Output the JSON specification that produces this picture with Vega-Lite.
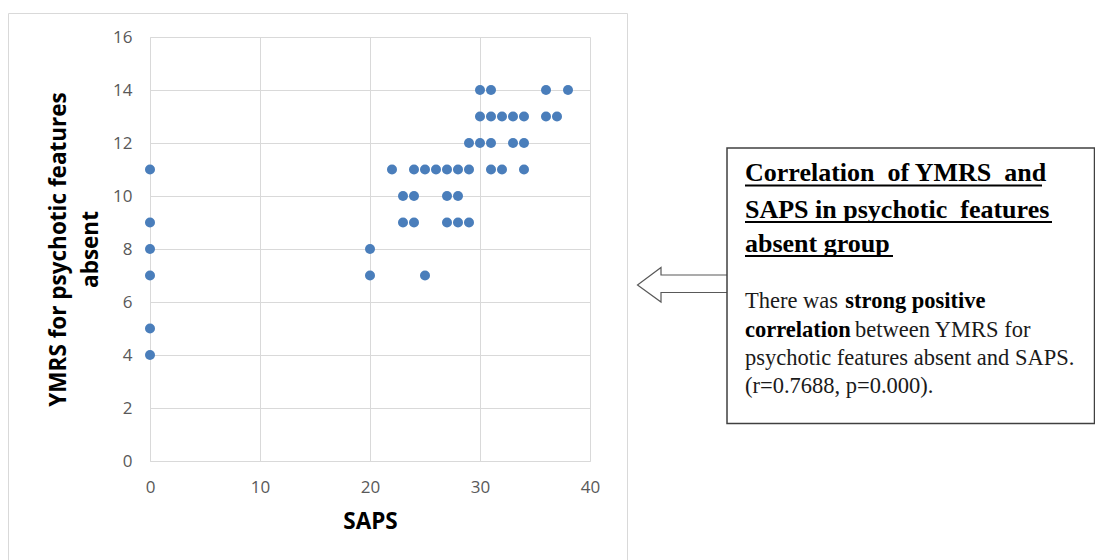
{
  "$schema": "https://vega.github.io/schema/vega-lite/v6.json",
  "width": 440,
  "height": 424,
  "autosize": {"type": "none"},
  "padding": {"left": 150, "top": 37, "right": 505, "bottom": 99},
  "background": "white",
  "config": {
    "view": {"stroke": null},
    "axis": {
      "grid": true,
      "gridColor": "#d9d9d9",
      "gridWidth": 1,
      "domainColor": "#d9d9d9",
      "domainWidth": 1,
      "ticks": false,
      "tickSize": 0,
      "labelFlush": false,
      "labelFont": "Open Sans",
      "labelFontSize": 17,
      "labelColor": "#595959",
      "titleFont": "Open Sans",
      "titleFontSize": 22.5,
      "titleFontWeight": "bold",
      "titleColor": "#000000"
    }
  },
  "datasets": {
    "points": [
      {"SAPS": 0, "YMRS": 11}, {"SAPS": 0, "YMRS": 9}, {"SAPS": 0, "YMRS": 8},
      {"SAPS": 0, "YMRS": 7}, {"SAPS": 0, "YMRS": 5}, {"SAPS": 0, "YMRS": 4},
      {"SAPS": 20, "YMRS": 8}, {"SAPS": 20, "YMRS": 7}, {"SAPS": 25, "YMRS": 7},
      {"SAPS": 23, "YMRS": 9}, {"SAPS": 24, "YMRS": 9}, {"SAPS": 27, "YMRS": 9}, {"SAPS": 28, "YMRS": 9}, {"SAPS": 29, "YMRS": 9},
      {"SAPS": 23, "YMRS": 10}, {"SAPS": 24, "YMRS": 10}, {"SAPS": 27, "YMRS": 10}, {"SAPS": 28, "YMRS": 10},
      {"SAPS": 22, "YMRS": 11}, {"SAPS": 24, "YMRS": 11}, {"SAPS": 25, "YMRS": 11}, {"SAPS": 26, "YMRS": 11},
      {"SAPS": 27, "YMRS": 11}, {"SAPS": 28, "YMRS": 11}, {"SAPS": 29, "YMRS": 11}, {"SAPS": 31, "YMRS": 11},
      {"SAPS": 32, "YMRS": 11}, {"SAPS": 34, "YMRS": 11},
      {"SAPS": 29, "YMRS": 12}, {"SAPS": 30, "YMRS": 12}, {"SAPS": 31, "YMRS": 12}, {"SAPS": 33, "YMRS": 12}, {"SAPS": 34, "YMRS": 12},
      {"SAPS": 30, "YMRS": 13}, {"SAPS": 31, "YMRS": 13}, {"SAPS": 32, "YMRS": 13}, {"SAPS": 33, "YMRS": 13},
      {"SAPS": 34, "YMRS": 13}, {"SAPS": 36, "YMRS": 13}, {"SAPS": 37, "YMRS": 13},
      {"SAPS": 30, "YMRS": 14}, {"SAPS": 31, "YMRS": 14}, {"SAPS": 36, "YMRS": 14}, {"SAPS": 38, "YMRS": 14}
    ],
    "frame": [{"x1": -12.864, "x2": 43.409, "y1": 16.887, "y2": -4.5}],
    "box": [{"x1": 52.455, "x2": 85.864, "y1": 11.811, "y2": 1.415}],
    "arrow": [
      {"o": 1, "x": 52.455, "y": 7.019},
      {"o": 2, "x": 46.455, "y": 7.019},
      {"o": 3, "x": 46.455, "y": 7.302},
      {"o": 4, "x": 44.318, "y": 6.642},
      {"o": 5, "x": 46.455, "y": 6.0},
      {"o": 6, "x": 46.455, "y": 6.358},
      {"o": 7, "x": 52.455, "y": 6.358}
    ],
    "underlines": [
      {"x1": 54.091, "x2": 81.091, "y": 10.396},
      {"x1": 54.091, "x2": 82.0, "y": 9.019},
      {"x1": 54.091, "x2": 67.545, "y": 7.736}
    ],
    "notes": [
      {"part": "title", "x": 54.091, "y": 10.566, "label": "Correlation\u00a0 of YMRS\u00a0 and"},
      {"part": "title", "x": 54.091, "y": 9.181, "label": "SAPS in psychotic\u00a0 features"},
      {"part": "title", "x": 54.091, "y": 7.875, "label": "absent group"},
      {"part": "body", "x": 54.091, "y": 5.762, "label": "There was"},
      {"part": "emph", "x": 63.209, "y": 5.762, "label": "strong positive"},
      {"part": "emph", "x": 54.091, "y": 4.691, "label": "correlation"},
      {"part": "body", "x": 64.091, "y": 4.691, "label": "between YMRS for"},
      {"part": "body", "x": 54.091, "y": 3.623, "label": "psychotic features absent and SAPS."},
      {"part": "body", "x": 54.091, "y": 2.555, "label": "(r=0.7688, p=0.000)."}
    ]
  },
  "layer": [
    {
      "data": {"name": "frame"},
      "mark": {"type": "rect", "fill": null, "fillOpacity": 0, "stroke": "#d9d9d9", "strokeWidth": 1, "clip": false},
      "encoding": {
        "x": {"field": "x1", "type": "quantitative", "scale": {"domain": [0, 40], "nice": false}},
        "x2": {"field": "x2"},
        "y": {"field": "y1", "type": "quantitative", "scale": {"domain": [0, 16], "nice": false}},
        "y2": {"field": "y2"}
      }
    },
    {
      "data": {"name": "points"},
      "mark": {"type": "circle", "size": 100, "color": "#4a7ebb", "opacity": 1},
      "encoding": {
        "x": {
          "field": "SAPS", "type": "quantitative",
          "scale": {"domain": [0, 40], "nice": false},
          "axis": {
            "values": [0, 10, 20, 30, 40],
            "title": "SAPS",
            "labelPadding": 18,
            "titleX": 220,
            "titleY": 60,
            "titleBaseline": "middle",
            "titleAlign": "center"
          }
        },
        "y": {
          "field": "YMRS", "type": "quantitative",
          "scale": {"domain": [0, 16], "nice": false},
          "axis": {
            "values": [0, 2, 4, 6, 8, 10, 12, 14, 16],
            "title": ["YMRS for psychotic features", "absent"],
            "labelPadding": 18,
            "titleLineHeight": 32,
            "titleX": -92,
            "titleY": 212,
            "titleAngle": -90,
            "titleAlign": "center",
            "titleBaseline": "middle"
          }
        }
      }
    },
    {
      "data": {"name": "arrow"},
      "mark": {"type": "line", "stroke": "#595959", "strokeWidth": 1.2, "clip": false},
      "encoding": {
        "x": {"field": "x", "type": "quantitative"},
        "y": {"field": "y", "type": "quantitative"},
        "order": {"field": "o", "type": "quantitative"}
      }
    },
    {
      "data": {"name": "box"},
      "mark": {"type": "rect", "fill": null, "fillOpacity": 0, "stroke": "#404040", "strokeWidth": 1.5, "clip": false},
      "encoding": {
        "x": {"field": "x1", "type": "quantitative"},
        "x2": {"field": "x2"},
        "y": {"field": "y1", "type": "quantitative"},
        "y2": {"field": "y2"}
      }
    },
    {
      "data": {"name": "underlines"},
      "mark": {"type": "rule", "stroke": "#000000", "strokeWidth": 1.8, "clip": false},
      "encoding": {
        "x": {"field": "x1", "type": "quantitative"},
        "x2": {"field": "x2"},
        "y": {"field": "y", "type": "quantitative"}
      }
    },
    {
      "data": {"name": "notes"},
      "transform": [{"filter": "datum.part === 'title'"}],
      "mark": {"type": "text", "font": "Liberation Serif", "fontSize": 26, "fontWeight": "bold", "color": "#000000", "align": "left", "baseline": "alphabetic", "clip": false},
      "encoding": {
        "x": {"field": "x", "type": "quantitative"},
        "y": {"field": "y", "type": "quantitative"},
        "text": {"field": "label"}
      }
    },
    {
      "data": {"name": "notes"},
      "transform": [{"filter": "datum.part === 'body'"}],
      "mark": {"type": "text", "font": "Liberation Serif", "fontSize": 22.5, "color": "#1a1a1a", "align": "left", "baseline": "alphabetic", "clip": false},
      "encoding": {
        "x": {"field": "x", "type": "quantitative"},
        "y": {"field": "y", "type": "quantitative"},
        "text": {"field": "label"}
      }
    },
    {
      "data": {"name": "notes"},
      "transform": [{"filter": "datum.part === 'emph'"}],
      "mark": {"type": "text", "font": "Liberation Serif", "fontSize": 22.5, "fontWeight": "bold", "color": "#000000", "align": "left", "baseline": "alphabetic", "clip": false},
      "encoding": {
        "x": {"field": "x", "type": "quantitative"},
        "y": {"field": "y", "type": "quantitative"},
        "text": {"field": "label"}
      }
    }
  ]
}
